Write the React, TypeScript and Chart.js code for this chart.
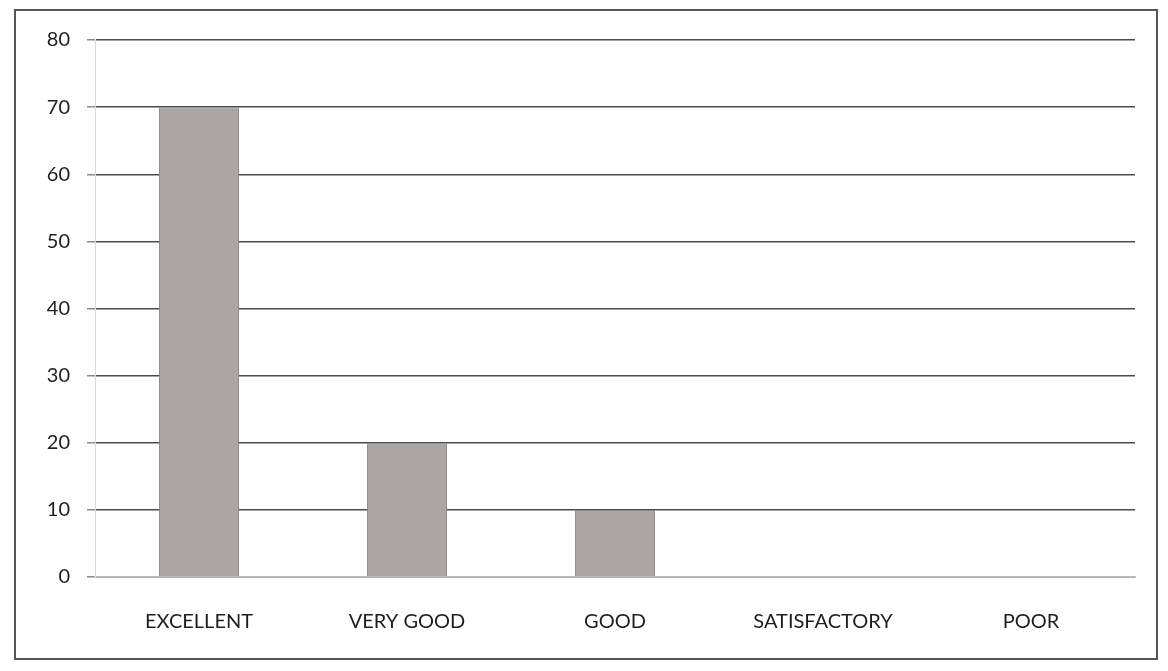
import React, { useEffect, useRef } from "react";
import { Chart, registerables } from "chart.js";

Chart.register(...registerables);

const categories = ["EXCELLENT", "VERY GOOD", "GOOD", "SATISFACTORY", "POOR"];
const values = [70, 20, 10, 0, 0];
const yTicks = [0, 10, 20, 30, 40, 50, 60, 70, 80];

export default function App() {
  const ref = useRef<HTMLCanvasElement>(null);
  useEffect(() => {
    document.body.style.margin = "0";
    const ctx = ref.current!;
    const chart = new Chart(ctx, {
      type: "bar",
      data: {
        labels: categories,
        datasets: [
          {
            data: values,
            backgroundColor: "#aba5a6",
            borderColor: "#8e8889",
            borderWidth: 1,
            barPercentage: 0.385,
            categoryPercentage: 1,
          },
        ],
      },
      options: {
        animation: false,
        responsive: false,
        maintainAspectRatio: false,
        layout: { padding: { top: 40, right: 33, left: 0, bottom: 0 } },
        plugins: { legend: { display: false }, tooltip: { enabled: false } },
        scales: {
          x: {
            grid: { display: false, drawTicks: false },
            border: { color: "#bdbdbd", width: 1.5 },
            ticks: {
              padding: 33,
              color: "#1e1e1e",
              font: { family: "Lato", size: 20 },
            },
            afterFit: (s: any) => {
              s.height = 94;
            },
          },
          y: {
            min: 0,
            max: 80,
            afterBuildTicks: (s: any) => {
              s.ticks = yTicks.map((v) => ({ value: v }));
            },
            grid: {
              color: "#4a4a4a",
              lineWidth: 1.5,
              tickLength: 8,
              tickColor: "#8a8a8a",
            },
            border: { color: "#e0d8d8", width: 1 },
            ticks: {
              padding: 17,
              color: "#1e1e1e",
              font: { family: "Lato", size: 20 },
            },
            afterFit: (s: any) => {
              s.width = 95;
            },
          },
        },
      },
    });
    return () => chart.destroy();
  }, []);
  return (
    <div style={{ position: "relative", width: 1168, height: 671, background: "#fff" }}>
      <div
        style={{
          position: "absolute",
          left: 14,
          top: 9,
          width: 1144,
          height: 651,
          border: "2px solid #555",
          boxSizing: "border-box",
        }}
      />
      <canvas ref={ref} width={1168} height={671} style={{ position: "absolute", left: 0, top: 0 }} />
    </div>
  );
}
